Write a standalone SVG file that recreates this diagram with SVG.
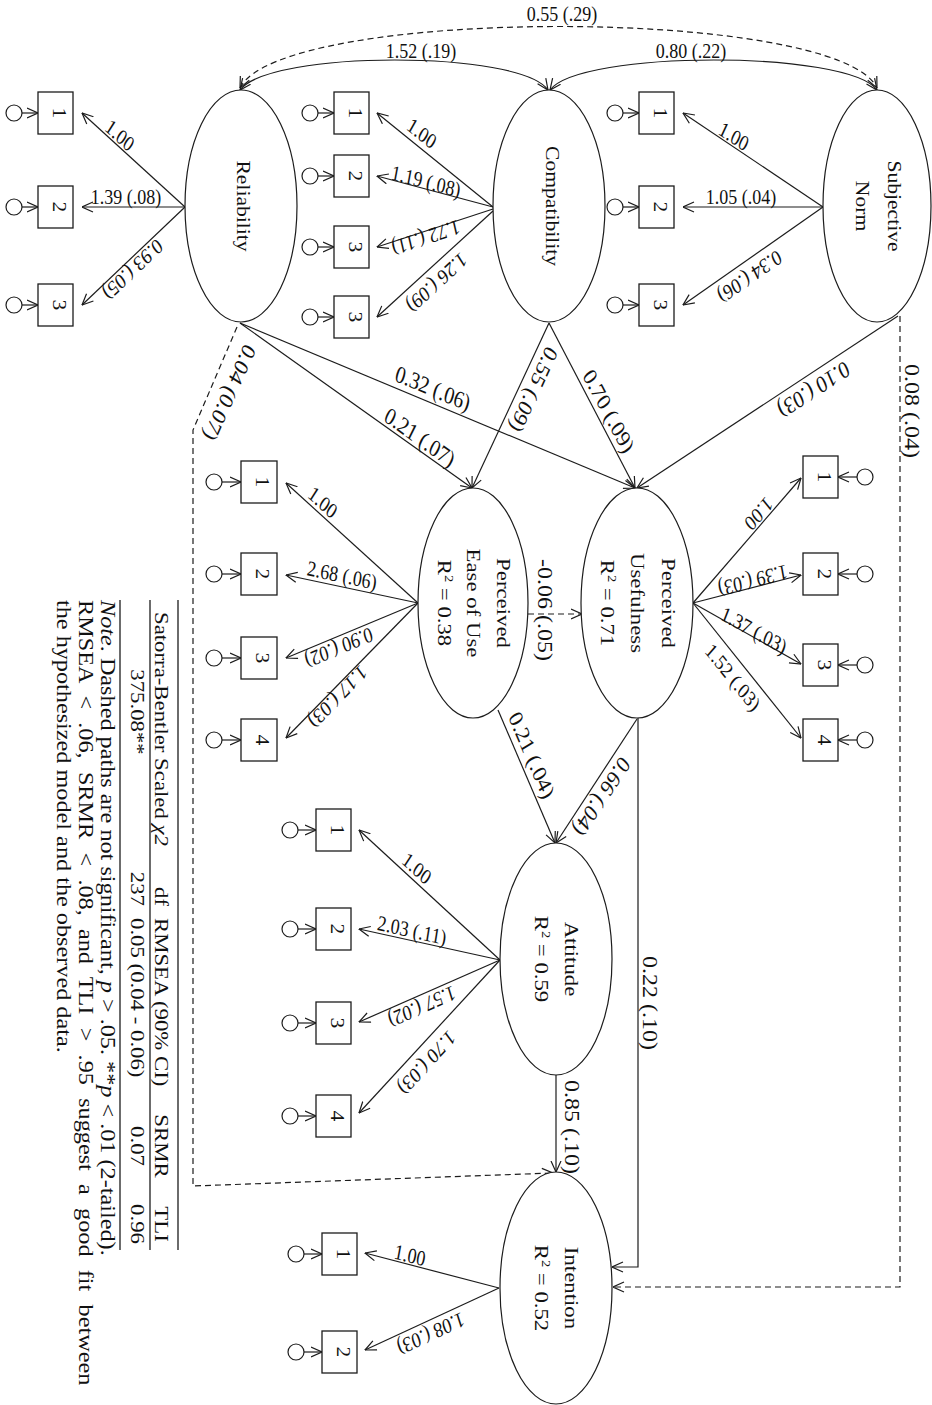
<svg xmlns="http://www.w3.org/2000/svg" width="932" height="1405" viewBox="0 0 932 1405">
<defs>
<style>
.ln{fill:none;stroke:#1c1c1c;stroke-width:1.2}
.dsh{stroke-dasharray:6 4}
.box{fill:#fff;stroke:#1c1c1c;stroke-width:1.3}
.lat{fill:#fff;stroke:#1c1c1c;stroke-width:1.2}
.err{fill:#fff;stroke:#1c1c1c;stroke-width:1.2}
.rule{stroke:#1c1c1c;stroke-width:1.3}
text{font-family:"Liberation Serif","Times New Roman",serif;fill:#111}
.lb{font-size:18px;text-anchor:middle}
.sl{font-size:20px;text-anchor:middle}
.nd{font-size:18px;text-anchor:middle}
.nd2{font-size:19px;text-anchor:middle}
.ix{font-size:18px;text-anchor:middle}
.tb{font-size:19px}
.tbr{font-size:19px;text-anchor:end}
.tbm{font-size:19px;text-anchor:middle}
.nt{font-size:20.2px}
.it{font-style:italic}
</style>
<marker id="ah" viewBox="0 0 12 12" refX="11.5" refY="6" markerWidth="12" markerHeight="12" orient="auto" markerUnits="userSpaceOnUse">
<path d="M0.5,1 L11.5,6 L0.5,11" fill="none" stroke="#1c1c1c" stroke-width="1.2"/>
</marker>
<marker id="ahs" viewBox="0 0 12 12" refX="11.5" refY="6" markerWidth="12" markerHeight="12" orient="auto-start-reverse" markerUnits="userSpaceOnUse">
<path d="M0.5,1 L11.5,6 L0.5,11" fill="none" stroke="#1c1c1c" stroke-width="1.2"/>
</marker>
</defs>
<rect width="932" height="1405" fill="#fff"/>

<!-- connectors: loadings, structural paths, covariances, error arrows -->
<g id="connectors">
<!-- covariances -->
<path class="ln" d="M240,90 C270,50 520,50 548,90" marker-start="url(#ahs)" marker-end="url(#ah)"/>
<path class="ln" d="M550,90 C580,50 848,50 877,90" marker-start="url(#ahs)" marker-end="url(#ah)"/>
<path class="ln dsh" d="M240,88 C280,6 838,6 877,88" marker-start="url(#ahs)" marker-end="url(#ah)"/>

<!-- loadings: Reliability -->
<line class="ln" x1="185" y1="207" x2="82" y2="113" marker-end="url(#ah)"/>
<line class="ln" x1="185" y1="207" x2="82" y2="207" marker-end="url(#ah)"/>
<line class="ln" x1="185" y1="207" x2="82" y2="305" marker-end="url(#ah)"/>
<!-- loadings: Compatibility -->
<line class="ln" x1="493" y1="207" x2="377" y2="113" marker-end="url(#ah)"/>
<line class="ln" x1="493" y1="207" x2="377" y2="176" marker-end="url(#ah)"/>
<line class="ln" x1="493" y1="209" x2="377" y2="247" marker-end="url(#ah)"/>
<line class="ln" x1="493" y1="211" x2="377" y2="317" marker-end="url(#ah)"/>
<!-- loadings: Subjective Norm -->
<line class="ln" x1="823" y1="207" x2="683" y2="113" marker-end="url(#ah)"/>
<line class="ln" x1="823" y1="207" x2="683" y2="207" marker-end="url(#ah)"/>
<line class="ln" x1="823" y1="207" x2="683" y2="305" marker-end="url(#ah)"/>
<!-- loadings: Perceived Usefulness -->
<line class="ln" x1="693" y1="603" x2="801" y2="478" marker-end="url(#ah)"/>
<line class="ln" x1="693" y1="603" x2="801" y2="575" marker-end="url(#ah)"/>
<line class="ln" x1="693" y1="603" x2="801" y2="664" marker-end="url(#ah)"/>
<line class="ln" x1="693" y1="603" x2="801" y2="738" marker-end="url(#ah)"/>
<!-- loadings: Perceived Ease of Use -->
<line class="ln" x1="418" y1="603" x2="286" y2="483" marker-end="url(#ah)"/>
<line class="ln" x1="418" y1="603" x2="286" y2="575" marker-end="url(#ah)"/>
<line class="ln" x1="418" y1="603" x2="286" y2="658" marker-end="url(#ah)"/>
<line class="ln" x1="418" y1="603" x2="286" y2="738" marker-end="url(#ah)"/>
<!-- loadings: Attitude -->
<line class="ln" x1="500" y1="960" x2="359" y2="830" marker-end="url(#ah)"/>
<line class="ln" x1="500" y1="960" x2="359" y2="929" marker-end="url(#ah)"/>
<line class="ln" x1="500" y1="960" x2="359" y2="1022" marker-end="url(#ah)"/>
<line class="ln" x1="500" y1="960" x2="359" y2="1113" marker-end="url(#ah)"/>
<!-- loadings: Intention -->
<line class="ln" x1="499" y1="1288" x2="365" y2="1253" marker-end="url(#ah)"/>
<line class="ln" x1="499" y1="1288" x2="365" y2="1350" marker-end="url(#ah)"/>

<!-- structural paths -->
<line class="ln" x1="240" y1="323" x2="472" y2="488" marker-end="url(#ah)"/>
<line class="ln" x1="240" y1="323" x2="635" y2="488" marker-end="url(#ah)"/>
<line class="ln" x1="549" y1="323" x2="472" y2="488" marker-end="url(#ah)"/>
<line class="ln" x1="549" y1="323" x2="635" y2="488" marker-end="url(#ah)"/>
<line class="ln" x1="898" y1="316" x2="637" y2="488" marker-end="url(#ah)"/>
<path class="ln dsh" d="M900,316 L900,1287 L613,1287" marker-end="url(#ah)"/>
<path class="ln dsh" d="M237,327 L193,430 L193,1186 L553,1173" marker-end="url(#ah)"/>
<line class="ln dsh" x1="528" y1="614" x2="582" y2="614" marker-end="url(#ah)"/>
<line class="ln" x1="498" y1="710" x2="555" y2="843" marker-end="url(#ah)"/>
<line class="ln" x1="637" y1="719" x2="556" y2="843" marker-end="url(#ah)"/>
<path class="ln" d="M638,718 L638,1267 L612,1267" marker-end="url(#ah)"/>
<line class="ln" x1="556" y1="1075" x2="556" y2="1172" marker-end="url(#ah)"/>

<!-- error arrows -->
<g>
<line class="ln" x1="22" y1="113" x2="38" y2="113" marker-end="url(#ah)"/>
<line class="ln" x1="22" y1="207" x2="38" y2="207" marker-end="url(#ah)"/>
<line class="ln" x1="22" y1="305" x2="38" y2="305" marker-end="url(#ah)"/>
<line class="ln" x1="318" y1="113" x2="334" y2="113" marker-end="url(#ah)"/>
<line class="ln" x1="318" y1="176" x2="334" y2="176" marker-end="url(#ah)"/>
<line class="ln" x1="318" y1="247" x2="334" y2="247" marker-end="url(#ah)"/>
<line class="ln" x1="318" y1="317" x2="334" y2="317" marker-end="url(#ah)"/>
<line class="ln" x1="623" y1="113" x2="639" y2="113" marker-end="url(#ah)"/>
<line class="ln" x1="623" y1="207" x2="639" y2="207" marker-end="url(#ah)"/>
<line class="ln" x1="623" y1="305" x2="639" y2="305" marker-end="url(#ah)"/>
<line class="ln" x1="222" y1="482" x2="241" y2="482" marker-end="url(#ah)"/>
<line class="ln" x1="222" y1="574" x2="241" y2="574" marker-end="url(#ah)"/>
<line class="ln" x1="222" y1="658" x2="241" y2="658" marker-end="url(#ah)"/>
<line class="ln" x1="222" y1="740" x2="241" y2="740" marker-end="url(#ah)"/>
<line class="ln" x1="298" y1="830" x2="316" y2="830" marker-end="url(#ah)"/>
<line class="ln" x1="298" y1="929" x2="316" y2="929" marker-end="url(#ah)"/>
<line class="ln" x1="298" y1="1023" x2="316" y2="1023" marker-end="url(#ah)"/>
<line class="ln" x1="298" y1="1116" x2="316" y2="1116" marker-end="url(#ah)"/>
<line class="ln" x1="304" y1="1254" x2="322" y2="1254" marker-end="url(#ah)"/>
<line class="ln" x1="304" y1="1352" x2="322" y2="1352" marker-end="url(#ah)"/>
<line class="ln" x1="857" y1="477" x2="838" y2="477" marker-end="url(#ah)"/>
<line class="ln" x1="857" y1="574" x2="838" y2="574" marker-end="url(#ah)"/>
<line class="ln" x1="857" y1="665" x2="838" y2="665" marker-end="url(#ah)"/>
<line class="ln" x1="857" y1="740" x2="838" y2="740" marker-end="url(#ah)"/>
</g>

<!-- path labels -->
<g id="labels">
<text class="lb" dy="0.35em" transform="translate(421,50) scale(1,1.2)">1.52  (.19)</text>
<text class="lb" dy="0.35em" transform="translate(691,50) scale(1,1.2)">0.80  (.22)</text>
<text class="lb" dy="0.35em" transform="translate(562,13) scale(1,1.2)">0.55  (.29)</text>

<text class="lb" dy="0.35em" transform="translate(120,135) scale(1,1.2) rotate(37.2)">1.00</text>
<text class="lb" dy="0.35em" transform="translate(126,196) scale(1,1.2)">1.39  (.08)</text>
<text class="lb" dy="0.35em" transform="translate(133,270) scale(1,1.2) rotate(141.6)">0.93  (.05)</text>

<text class="lb" dy="0.35em" transform="translate(422,133) scale(1,1.2) rotate(34)">1.00</text>
<text class="lb" dy="0.35em" transform="translate(426,181) scale(1,1.2) rotate(12.5)">1.19  (.08)</text>
<text class="lb" dy="0.35em" transform="translate(426,238) scale(1,1.2) rotate(164.4)">1.72  (.11)</text>
<text class="lb" dy="0.35em" transform="translate(437,283) scale(1,1.2) rotate(142.5)">1.26  (.09)</text>

<text class="lb" dy="0.35em" transform="translate(734,136) scale(1,1.2) rotate(29.2)">1.00</text>
<text class="lb" dy="0.35em" transform="translate(741,196) scale(1,1.2)">1.05  (.04)</text>
<text class="lb" dy="0.35em" transform="translate(750,277) scale(1,1.2) rotate(149.7)">0.34  (.06)</text>

<text class="lb" dy="0.35em" transform="translate(759,514) scale(1,1.2) rotate(135.8)">1.00</text>
<text class="lb" dy="0.35em" transform="translate(753,581) scale(1,1.2) rotate(167.7)">1.39  (.03)</text>
<text class="lb" dy="0.35em" transform="translate(754,630) scale(1,1.2) rotate(25)">1.37  (.03)</text>
<text class="lb" dy="0.35em" transform="translate(733,677) scale(1,1.2) rotate(46.2)">1.52  (.03)</text>

<text class="lb" dy="0.35em" transform="translate(323,502) scale(1,1.2) rotate(37.4)">1.00</text>
<text class="lb" dy="0.35em" transform="translate(342,575) scale(1,1.2) rotate(10.1)">2.68  (.06)</text>
<text class="lb" dy="0.35em" transform="translate(339,648) scale(1,1.2) rotate(160.7)">0.90  (.02)</text>
<text class="lb" dy="0.35em" transform="translate(338,697) scale(1,1.2) rotate(139.3)">1.17  (.03)</text>

<text class="lb" dy="0.35em" transform="translate(417,868) scale(1,1.2) rotate(37.7)">1.00</text>
<text class="lb" dy="0.35em" transform="translate(412,930) scale(1,1.2) rotate(10.5)">2.03  (.11)</text>
<text class="lb" dy="0.35em" transform="translate(422,1007) scale(1,1.2) rotate(159.7)">1.57  (.02)</text>
<text class="lb" dy="0.35em" transform="translate(427,1063) scale(1,1.2) rotate(137.7)">1.70  (.03)</text>

<text class="lb" dy="0.35em" transform="translate(410,1255) scale(1,1.2) rotate(12.3)">1.00</text>
<text class="lb" dy="0.35em" transform="translate(431,1334) scale(1,1.2) rotate(158.9)">1.08  (.03)</text>

<text class="sl" dy="0.35em" transform="translate(433,388) scale(1,1.2) rotate(19.3)">0.32 (.06)</text>
<text class="sl" dy="0.35em" transform="translate(420,437) scale(1,1.2) rotate(30.8)">0.21 (.07)</text>
<text class="sl" dy="0.35em" transform="translate(534,390) scale(1,1.2) rotate(118.9)">0.55 (.09)</text>
<text class="sl" dy="0.35em" transform="translate(609,411) scale(1,1.2) rotate(57.4)">0.70 (.09)</text>
<text class="sl" dy="0.35em" transform="translate(814,390) scale(1,1.2) rotate(151.5)">0.10 (.03)</text>
<text class="sl" dy="0.35em" transform="translate(912,411) scale(1,1.2) rotate(90)">0.08 (.04)</text>
<text class="sl" dy="0.35em" transform="translate(230,393) scale(1,1.2) rotate(118.4)">0.04 (0.07)</text>
<text class="sl" dy="0.35em" transform="translate(545,610) scale(1,1.2) rotate(90)">-0.06 (.05)</text>
<text class="sl" dy="0.35em" transform="translate(532,755) scale(1,1.2) rotate(62.8)">0.21 (.04)</text>
<text class="sl" dy="0.35em" transform="translate(602,797) scale(1,1.2) rotate(128.7)">0.66 (.04)</text>
<text class="sl" dy="0.35em" transform="translate(650,1003) scale(1,1.2) rotate(90)">0.22 (.10)</text>
<text class="sl" dy="0.35em" transform="translate(572,1127) scale(1,1.2) rotate(90)">0.85 (.10)</text>
</g>
</g>

<!-- latent variables -->
<g id="reliability">
<ellipse class="lat" cx="241" cy="206" rx="56" ry="116"/>
<text class="nd" transform="translate(241,206) scale(1,1.2) rotate(90)" y="4">Reliability</text>
</g>
<g id="compatibility">
<ellipse class="lat" cx="549" cy="206" rx="56" ry="116"/>
<text class="nd" transform="translate(549,206) scale(1,1.2) rotate(90)" y="3">Compatibility</text>
</g>
<g id="subjective-norm">
<ellipse class="lat" cx="877" cy="206" rx="54" ry="116"/>
<text class="nd" transform="translate(877,206) scale(1,1.2) rotate(90)"><tspan x="0" y="-11">Subjective</tspan><tspan x="0" y="21">Norm</tspan></text>
</g>
<g id="perceived-usefulness">
<ellipse class="lat" cx="637" cy="603" rx="56" ry="115"/>
<text class="nd2" transform="translate(637,603) scale(1,1.2) rotate(90)"><tspan x="0" y="-25">Perceived</tspan><tspan x="0" y="6">Usefulness</tspan><tspan x="0" y="36">R<tspan font-size="12" dy="-7">2</tspan><tspan dy="7"> = 0.71</tspan></tspan></text>
</g>
<g id="perceived-ease-of-use">
<ellipse class="lat" cx="473" cy="603" rx="55" ry="115"/>
<text class="nd2" transform="translate(473,603) scale(1,1.2) rotate(90)"><tspan x="0" y="-24">Perceived</tspan><tspan x="0" y="6">Ease of  Use</tspan><tspan x="0" y="35">R<tspan font-size="12" dy="-7">2</tspan><tspan dy="7"> = 0.38</tspan></tspan></text>
</g>
<g id="attitude">
<ellipse class="lat" cx="556" cy="959" rx="56" ry="116"/>
<text class="nd2" transform="translate(556,959) scale(1,1.2) rotate(90)"><tspan x="0" y="-9">Attitude</tspan><tspan x="0" y="21">R<tspan font-size="12" dy="-7">2</tspan><tspan dy="7"> = 0.59</tspan></tspan></text>
</g>
<g id="intention">
<ellipse class="lat" cx="556" cy="1288" rx="56" ry="116"/>
<text class="nd2" transform="translate(556,1288) scale(1,1.2) rotate(90)"><tspan x="0" y="-9">Intention</tspan><tspan x="0" y="21">R<tspan font-size="12" dy="-7">2</tspan><tspan dy="7"> = 0.52</tspan></tspan></text>
</g>

<!-- observed indicators with error terms -->
<g id="rel-1"><circle class="err" cx="14" cy="113" r="8"/><rect class="box" x="38" y="92" width="35" height="42"/><text class="ix" transform="translate(52.5,113) scale(1,1.2) rotate(90)">1</text></g>
<g id="rel-2"><circle class="err" cx="14" cy="207" r="8"/><rect class="box" x="38" y="186" width="35" height="42"/><text class="ix" transform="translate(52.5,207) scale(1,1.2) rotate(90)">2</text></g>
<g id="rel-3"><circle class="err" cx="14" cy="305" r="8"/><rect class="box" x="38" y="284" width="35" height="42"/><text class="ix" transform="translate(52.5,305) scale(1,1.2) rotate(90)">3</text></g>

<g id="com-1"><circle class="err" cx="310" cy="113" r="8"/><rect class="box" x="334" y="92" width="35" height="42"/><text class="ix" transform="translate(348.5,113) scale(1,1.2) rotate(90)">1</text></g>
<g id="com-2"><circle class="err" cx="310" cy="176" r="8"/><rect class="box" x="334" y="155" width="35" height="42"/><text class="ix" transform="translate(348.5,176) scale(1,1.2) rotate(90)">2</text></g>
<g id="com-3"><circle class="err" cx="310" cy="247" r="8"/><rect class="box" x="334" y="226" width="35" height="42"/><text class="ix" transform="translate(348.5,247) scale(1,1.2) rotate(90)">3</text></g>
<g id="com-4"><circle class="err" cx="310" cy="317" r="8"/><rect class="box" x="334" y="296" width="35" height="42"/><text class="ix" transform="translate(348.5,317) scale(1,1.2) rotate(90)">3</text></g>

<g id="sn-1"><circle class="err" cx="615" cy="113" r="8"/><rect class="box" x="639" y="92" width="35" height="42"/><text class="ix" transform="translate(653.5,113) scale(1,1.2) rotate(90)">1</text></g>
<g id="sn-2"><circle class="err" cx="615" cy="207" r="8"/><rect class="box" x="639" y="186" width="35" height="42"/><text class="ix" transform="translate(653.5,207) scale(1,1.2) rotate(90)">2</text></g>
<g id="sn-3"><circle class="err" cx="615" cy="305" r="8"/><rect class="box" x="639" y="284" width="35" height="42"/><text class="ix" transform="translate(653.5,305) scale(1,1.2) rotate(90)">3</text></g>

<g id="pu-1"><circle class="err" cx="865" cy="477" r="8"/><rect class="box" x="803" y="456" width="35" height="42"/><text class="ix" transform="translate(817.5,477) scale(1,1.2) rotate(90)">1</text></g>
<g id="pu-2"><circle class="err" cx="865" cy="574" r="8"/><rect class="box" x="803" y="553" width="35" height="42"/><text class="ix" transform="translate(817.5,574) scale(1,1.2) rotate(90)">2</text></g>
<g id="pu-3"><circle class="err" cx="865" cy="665" r="8"/><rect class="box" x="803" y="644" width="35" height="42"/><text class="ix" transform="translate(817.5,665) scale(1,1.2) rotate(90)">3</text></g>
<g id="pu-4"><circle class="err" cx="865" cy="740" r="8"/><rect class="box" x="803" y="719" width="35" height="42"/><text class="ix" transform="translate(817.5,740) scale(1,1.2) rotate(90)">4</text></g>

<g id="peou-1"><circle class="err" cx="214" cy="482" r="8"/><rect class="box" x="241" y="461" width="36" height="42"/><text class="ix" transform="translate(256,482) scale(1,1.2) rotate(90)">1</text></g>
<g id="peou-2"><circle class="err" cx="214" cy="574" r="8"/><rect class="box" x="241" y="553" width="36" height="42"/><text class="ix" transform="translate(256,574) scale(1,1.2) rotate(90)">2</text></g>
<g id="peou-3"><circle class="err" cx="214" cy="658" r="8"/><rect class="box" x="241" y="637" width="36" height="42"/><text class="ix" transform="translate(256,658) scale(1,1.2) rotate(90)">3</text></g>
<g id="peou-4"><circle class="err" cx="214" cy="740" r="8"/><rect class="box" x="241" y="719" width="36" height="42"/><text class="ix" transform="translate(256,740) scale(1,1.2) rotate(90)">4</text></g>

<g id="att-1"><circle class="err" cx="290" cy="830" r="8"/><rect class="box" x="316" y="809" width="35" height="42"/><text class="ix" transform="translate(330.5,830) scale(1,1.2) rotate(90)">1</text></g>
<g id="att-2"><circle class="err" cx="290" cy="929" r="8"/><rect class="box" x="316" y="908" width="35" height="42"/><text class="ix" transform="translate(330.5,929) scale(1,1.2) rotate(90)">2</text></g>
<g id="att-3"><circle class="err" cx="290" cy="1023" r="8"/><rect class="box" x="316" y="1002" width="35" height="42"/><text class="ix" transform="translate(330.5,1023) scale(1,1.2) rotate(90)">3</text></g>
<g id="att-4"><circle class="err" cx="290" cy="1116" r="8"/><rect class="box" x="316" y="1095" width="35" height="42"/><text class="ix" transform="translate(330.5,1116) scale(1,1.2) rotate(90)">4</text></g>

<g id="int-1"><circle class="err" cx="296" cy="1254" r="8"/><rect class="box" x="322" y="1233" width="35" height="42"/><text class="ix" transform="translate(336.5,1254) scale(1,1.2) rotate(90)">1</text></g>
<g id="int-2"><circle class="err" cx="296" cy="1352" r="8"/><rect class="box" x="322" y="1331" width="35" height="42"/><text class="ix" transform="translate(336.5,1352) scale(1,1.2) rotate(90)">2</text></g>

<!-- fit statistics table -->
<g id="fit-table">
<line class="rule" x1="178" y1="600" x2="178" y2="1250"/>
<line class="rule" x1="150" y1="600" x2="150" y2="1250"/>
<line class="rule" x1="120" y1="600" x2="120" y2="1250"/>
<text class="tb" transform="translate(155,612) scale(1,1.2) rotate(90)">Satorra-Bentler Scaled <tspan class="it">χ2</tspan></text>
<text class="tbr" transform="translate(155,906) scale(1,1.2) rotate(90)">df</text>
<text class="tb" transform="translate(155,918) scale(1,1.2) rotate(90)">RMSEA (90% CI)</text>
<text class="tbm" transform="translate(155,1146) scale(1,1.2) rotate(90)">SRMR</text>
<text class="tbm" transform="translate(155,1224) scale(1,1.2) rotate(90)">TLI</text>
<text class="tbm" transform="translate(131,712) scale(1,1.2) rotate(90)">375.08**</text>
<text class="tbr" transform="translate(131,906) scale(1,1.2) rotate(90)">237</text>
<text class="tb" transform="translate(131,918) scale(1,1.2) rotate(90)">0.05 (0.04 - 0.06)</text>
<text class="tbm" transform="translate(131,1146) scale(1,1.2) rotate(90)">0.07</text>
<text class="tbm" transform="translate(131,1224) scale(1,1.2) rotate(90)">0.96</text>
</g>

<!-- note -->
<g id="note">
<text class="nt" transform="translate(101,600) scale(1,1.2) rotate(90)"><tspan class="it">Note</tspan>. Dashed paths are not significant, <tspan class="it">p</tspan> &gt; .05. **<tspan class="it">p</tspan> &lt; .01 (2-tailed).</text>
<text class="nt" word-spacing="6" transform="translate(79,600) scale(1,1.2) rotate(90)">RMSEA &lt; .06, SRMR &lt; .08, and TLI &gt; .95 suggest a good fit between</text>
<text class="nt" transform="translate(57,600) scale(1,1.2) rotate(90)">the hypothesized model and the observed data.</text>
</g>
</svg>
